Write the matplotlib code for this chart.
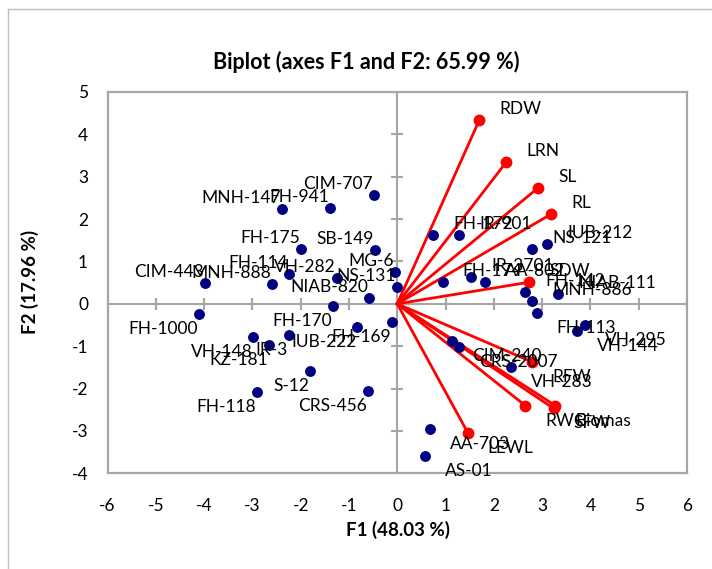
import matplotlib
matplotlib.use("Agg")
import matplotlib.pyplot as plt
from matplotlib.lines import Line2D

plt.rcParams['font.family'] = ['Lato', 'DejaVu Sans']

# Observations (genotypes)
genotypes = ["CIM-707", "FH-941", "MNH-147", "FH-175", "SB-149", "MG-6", "NS-131",
             "NIAB-820", "VH-282", "FH-114", "MNH-888", "CIM-443", "FH-170", "FH-1000",
             "FH-169", "IUB-222", "IR-3", "VH-148", "KZ-181", "S-12", "FH-118", "CRS-456",
             "FH-172", "IR-901", "NS-121", "IUB-212", "FH-174", "IR-3701", "AA-802",
             "FH-142", "MNH-886", "NIAB-111", "FH-113", "VH-144", "VH-295", "CIM-240",
             "CRS-2007", "VH-283", "AA-703", "AS-01"]
g_f1 = [-0.49, -1.39, -2.39, -1.99, -0.46, -0.04, -0.01,
        -0.58, -1.25, -2.25, -2.59, -3.98, -1.34, -4.10,
        -0.10, -0.83, -2.25, -2.98, -2.65, -1.80, -2.90, -0.61,
        0.75, 1.28, 2.79, 3.10, 0.94, 1.53, 1.82,
        2.65, 2.80, 3.33, 2.89, 3.72, 3.89, 1.14,
        1.28, 2.36, 0.68, 0.58]
g_f2 = [2.56, 2.27, 2.23, 1.29, 1.26, 0.76, 0.39,
        0.13, 0.61, 0.70, 0.47, 0.49, -0.05, -0.25,
        -0.42, -0.54, -0.73, -0.79, -0.97, -1.58, -2.07, -2.05,
        1.63, 1.63, 1.29, 1.42, 0.51, 0.63, 0.51,
        0.27, 0.07, 0.23, -0.22, -0.63, -0.51, -0.87,
        -1.02, -1.50, -2.96, -3.58]

# Variables (traits)
traits = ["RDW", "LRN", "SL", "RL", "SDW", "RFW", "RWC", "Biomas", "SFW", "LEWL"]
t_f1 = [1.70, 2.26, 2.92, 3.19, 2.73, 2.79, 2.65, 3.27, 3.24, 1.46]
t_f2 = [4.34, 3.35, 2.74, 2.12, 0.51, -1.37, -2.40, -2.40, -2.47, -3.04]

x_ticks = [-6, -5, -4, -3, -2, -1, 0, 1, 2, 3, 4, 5, 6]
y_ticks = [-4, -3, -2, -1, 0, 1, 2, 3, 4, 5]

W, H = 712, 569
fig = plt.figure(figsize=(W / 100, H / 100), dpi=100)
ax = fig.add_axes([107.5 / W, (H - 473.3) / H, (687 - 107.5) / W, (473.3 - 92) / H])

grey = '#A6A6A6'
ax.set_xlim(-6, 6)
ax.set_ylim(-4, 5)
for s in ax.spines.values():
    s.set_color(grey)
    s.set_linewidth(1.6)

# zero axes with cross ticks
ax.axhline(0, color=grey, lw=1.5, zorder=1)
ax.axvline(0, color=grey, lw=1.5, zorder=1)
ax.plot(x_ticks, [0] * len(x_ticks), ls='none', marker='|', ms=8, mew=1.5, color=grey, zorder=1)
ax.plot([0] * len(y_ticks), y_ticks, ls='none', marker='_', ms=9, mew=1.5, color=grey, zorder=1)

ax.set_xticks(x_ticks)
ax.set_yticks(y_ticks)
ax.set_xticklabels([str(v) for v in x_ticks])
ax.set_yticklabels([str(v) for v in y_ticks])
ax.tick_params(axis='both', length=0, labelsize=12.5)
ax.tick_params(axis='x', pad=18)
ax.tick_params(axis='y', pad=14)

# vectors
for name, x, y in zip(traits, t_f1, t_f2):
    ax.plot([0, x], [0, y], color='#FF0000', lw=2.0, zorder=2)
ax.plot(t_f1, t_f2, ls='none', marker='o', ms=7.5, color='#FF0000', zorder=3)

# observations
ax.plot(g_f1, g_f2, ls='none', marker='o', ms=6.8, color='#000080', zorder=4)


def put_label(name, x, y):
    dx = 20 if x > 0 else -1
    dy = 11 if y > 0 else -15
    ax.annotate(name, (x, y), xytext=(dx, dy), textcoords='offset pixels',
                ha='left' if x > 0 else 'right', va='center', fontsize=12.5,
                color='black', zorder=5)


for name, x, y in zip(genotypes, g_f1, g_f2):
    put_label(name, x, y)
for name, x, y in zip(traits, t_f1, t_f2):
    put_label(name, x, y)

fig.text(366 / W, 1 - 62 / H, "Biplot (axes F1 and F2: 65.99 %)", ha='center', va='center',
         fontsize=15.5, fontweight='bold')
fig.text(397.5 / W, 1 - 530 / H, "F1 (48.03 %)", ha='center', va='center',
         fontsize=13.5, fontweight='bold')
fig.text(30 / W, 1 - 282 / H, "F2 (17.96 %)", ha='center', va='center', rotation=90,
         fontsize=13.5, fontweight='bold')

# outer chart border (left and top)
fig.add_artist(Line2D([8 / W, 8 / W], [0, 1 - 9 / H], transform=fig.transFigure,
                      color='#BFBFBF', lw=1.0))
fig.add_artist(Line2D([8 / W, 1], [1 - 9 / H, 1 - 9 / H], transform=fig.transFigure,
                      color='#BFBFBF', lw=1.0))

fig.savefig("out.png", dpi=100)
